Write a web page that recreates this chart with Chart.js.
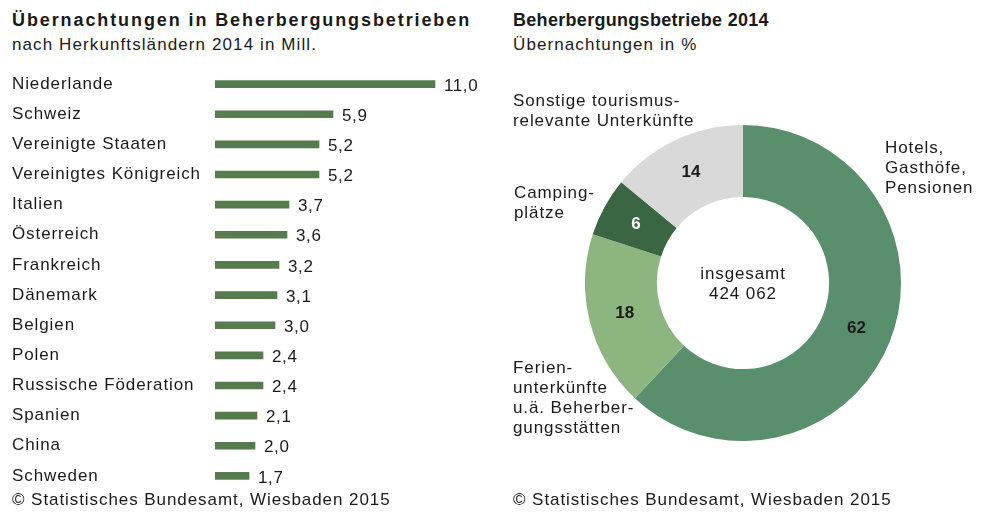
<!DOCTYPE html>
<html>
<head>
<meta charset="utf-8">
<script src="https://cdn.jsdelivr.net/npm/chart.js@4.4.1/dist/chart.umd.min.js"></script>
<style>
  body { margin: 0; width: 1000px; height: 520px; background: #fff; position: relative; overflow: hidden;
         font-family: "Liberation Sans", Arial, sans-serif; color: #1a1a1a; }
  .t { position: absolute; white-space: nowrap; font-size: 17px; letter-spacing: 0.9px; line-height: 20px; }
  .title { font-weight: bold; font-size: 18px; letter-spacing: 1.9px; }
  #barWrap { position: absolute; left: 0; top: 69px; width: 500px; height: 422px; }
  #donutWrap { position: absolute; left: 585px; top: 125px; width: 316px; height: 316px; }
  .c { text-align: center; }
</style>
</head>
<body>
<div class="t title" style="left:12px; top:10px;">Übernachtungen in Beherbergungsbetrieben</div>
<div class="t" style="left:12px; top:35px; letter-spacing:1.1px;">nach Herkunftsländern 2014 in Mill.</div>
<div class="t title" style="left:513px; top:10px; letter-spacing:0.3px;">Beherbergungsbetriebe 2014</div>
<div class="t" style="left:513px; top:35px; letter-spacing:1.1px;">Übernachtungen in %</div>

<div id="barWrap"><canvas id="bars"></canvas></div>
<div id="donutWrap"><canvas id="donut"></canvas></div>

<div class="t" style="left:513px; top:91px;">Sonstige tourismus-<br>relevante Unterkünfte</div>
<div class="t" style="left:885px; top:138px;">Hotels,<br>Gasthöfe,<br>Pensionen</div>
<div class="t" style="left:514px; top:183px;">Camping-<br>plätze</div>
<div class="t" style="left:513px; top:358px;">Ferien-<br>unterkünfte<br>u.ä. Beherber-<br>gungsstätten</div>
<div class="t c" style="left:643px; top:264px; width:200px;">insgesamt<br>424 062</div>

<div class="t" style="left:12px; top:490px; letter-spacing:0.93px;">© Statistisches Bundesamt, Wiesbaden 2015</div>
<div class="t" style="left:513px; top:490px; letter-spacing:0.93px;">© Statistisches Bundesamt, Wiesbaden 2015</div>

<script>
const countries = ['Niederlande', 'Schweiz', 'Vereinigte Staaten', 'Vereinigtes Königreich', 'Italien',
  'Österreich', 'Frankreich', 'Dänemark', 'Belgien', 'Polen', 'Russische Föderation', 'Spanien', 'China', 'Schweden'];
const nights = [11.0, 5.9, 5.2, 5.2, 3.7, 3.6, 3.2, 3.1, 3.0, 2.4, 2.4, 2.1, 2.0, 1.7];

const types = ['Hotels, Gasthöfe, Pensionen', 'Ferienunterkünfte u.ä. Beherbergungsstätten', 'Campingplätze',
  'Sonstige tourismusrelevante Unterkünfte'];
const shares = [62, 18, 6, 14];

const FONT = '"Liberation Sans", Arial, sans-serif';
const fmt = (v) => v.toFixed(1).replace('.', ',');

const spacing = {
  id: 'spacing',
  beforeDraw(chart) { chart.ctx.letterSpacing = '0.9px'; }
};

const barValues = {
  id: 'barValues',
  afterDatasetsDraw(chart) {
    const ctx = chart.ctx;
    const meta = chart.getDatasetMeta(0);
    ctx.save();
    ctx.font = '17px ' + FONT;
    ctx.letterSpacing = '0.6px';
    ctx.fillStyle = '#1a1a1a';
    ctx.textBaseline = 'middle';
    ctx.textAlign = 'left';
    meta.data.forEach((bar, i) => {
      ctx.fillText(fmt(nights[i]), bar.x + 9, bar.y + 2);
    });
    ctx.restore();
  }
};

new Chart(document.getElementById('bars'), {
  type: 'bar',
  data: {
    labels: countries,
    datasets: [{
      data: nights,
      backgroundColor: '#567b4d',
      barThickness: 7,
      borderWidth: 0
    }]
  },
  options: {
    indexAxis: 'y',
    responsive: true,
    maintainAspectRatio: false,
    animation: false,
    layout: { padding: { left: 12, right: 0, top: 0, bottom: 0 } },
    plugins: { legend: { display: false }, tooltip: { enabled: false } },
    scales: {
      x: { display: false, min: 0, max: 14.25 },
      y: {
        grid: { display: false },
        border: { display: false },
        afterFit: (s) => { s.width = 203; s.paddingTop = 0; s.paddingBottom = 0; },
        ticks: {
          crossAlign: 'far',
          color: '#1a1a1a',
          padding: 0,
          font: { family: FONT, size: 17 }
        }
      }
    }
  },
  plugins: [spacing, barValues]
});

const donutValues = {
  id: 'donutValues',
  afterDatasetsDraw(chart) {
    const ctx = chart.ctx;
    const meta = chart.getDatasetMeta(0);
    ctx.save();
    ctx.font = 'bold 17px ' + FONT;
    ctx.textAlign = 'center';
    ctx.textBaseline = 'middle';
    meta.data.forEach((arc, i) => {
      const p = arc.tooltipPosition();
      ctx.fillStyle = i === 2 ? '#ffffff' : '#1a1a1a';
      ctx.fillText(String(shares[i]), p.x, p.y);
    });
    ctx.restore();
  }
};

new Chart(document.getElementById('donut'), {
  type: 'doughnut',
  data: {
    labels: types,
    datasets: [{
      data: shares,
      backgroundColor: ['#5a8f6d', '#8db57f', '#3b6644', '#d9d9d9'],
      borderWidth: 0
    }]
  },
  options: {
    responsive: true,
    maintainAspectRatio: false,
    animation: false,
    cutout: '54.5%',
    plugins: { legend: { display: false }, tooltip: { enabled: false } }
  },
  plugins: [donutValues]
});
</script>
</body>
</html>
